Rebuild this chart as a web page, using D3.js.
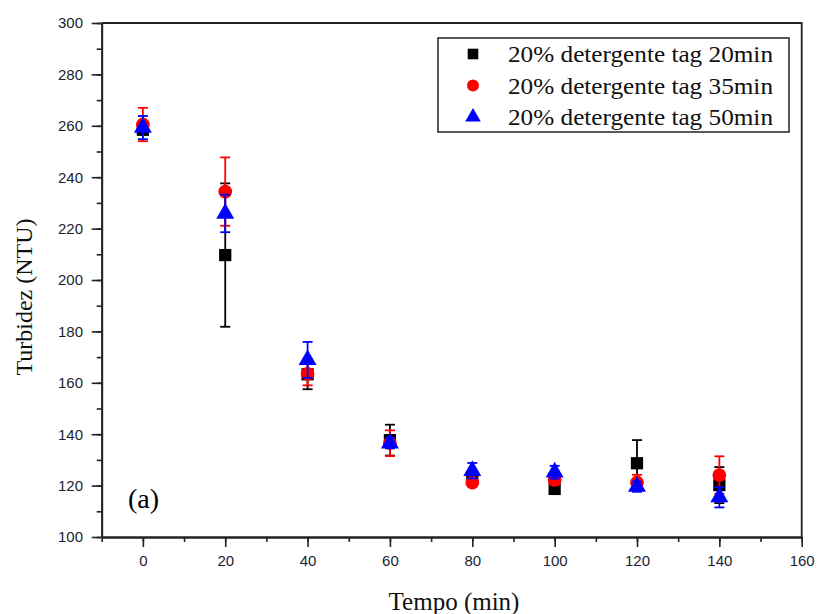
<!DOCTYPE html>
<html>
<head>
<meta charset="utf-8">
<script src="https://cdn.jsdelivr.net/npm/d3@7"></script>
<style>
  html, body { margin: 0; padding: 0; background: #fff; }
  #chart { width: 817px; height: 614px; }
  .serif { font-family: "Times New Roman", Times, "Liberation Serif", Tinos, serif; }
  .sans  { font-family: Arial, Helvetica, "Liberation Sans", Arimo, sans-serif; }
</style>
</head>
<body>
<div id="chart"></div>
<script>
// turbidity vs time, three detergent series with error bars

const tempo   = [0, 20, 40, 60, 80, 100, 120, 140];
const turb20  = [258.5, 209.7, 163.3, 137.7, 122.8, 118.7, 128.7, 120.2];
const err20   = [2, 27.9, 5.8, 6, 2.5, 1, 9, 7];
const turb35  = [260.5, 234.4, 163.5, 136.5, 121.2, 122.2, 121.2, 124.1];
const err35   = [6.5, 13.3, 4.5, 5, 1.5, 2, 3, 7.3];
const turb50  = [259.3, 225.9, 168.9, 136.5, 125.8, 125.2, 119.6, 115.5];
const err50   = [4.5, 7.3, 7, 2, 3, 2.5, 2, 4];
const seriesNames = ["20% detergente tag 20min", "20% detergente tag 35min", "20% detergente tag 50min"];
const xTicks = [0, 20, 40, 60, 80, 100, 120, 140, 160];
const yTicks = [100, 120, 140, 160, 180, 200, 220, 240, 260, 280, 300];

const margin = { top: 23, left: 101.7 };
const width  = 700;
const height = 514;

const svg = d3.select("#chart").append("svg")
  .attr("width", 817)
  .attr("height", 614);

const g = svg.append("g")
  .attr("transform", `translate(${margin.left},${margin.top})`);

const x = d3.scaleLinear().domain([-10, 160]).range([0, width]);
const y = d3.scaleLinear().domain([100, 300]).range([height, 0]);

// --- minor ticks ---
g.append("g")
  .attr("transform", `translate(0,${height})`)
  .call(d3.axisBottom(x).tickValues(d3.range(-10, 161, 10)).tickSize(5).tickSizeOuter(0).tickFormat(""));
g.append("g")
  .call(d3.axisLeft(y).tickValues(d3.range(100, 301, 10)).tickSize(5).tickSizeOuter(0).tickFormat(""));

// --- major ticks with labels ---
g.append("g")
  .attr("transform", `translate(0,${height})`)
  .call(d3.axisBottom(x).tickValues(xTicks).tickSize(10).tickSizeOuter(0).tickPadding(8.4));
g.append("g")
  .call(d3.axisLeft(y).tickValues(yTicks).tickSize(10).tickSizeOuter(0).tickPadding(8.7));

g.selectAll(".tick line").attr("stroke", "#222").attr("stroke-width", 1.6);
g.selectAll(".domain").attr("stroke", "#222").attr("stroke-width", 1.8);
g.selectAll(".tick text")
  .attr("class", "sans")
  .attr("font-family", null)
  .style("font-size", "15px")
  .attr("fill", "#1d1d2e");

// --- frame (top + right) ---
g.append("path")
  .attr("d", `M0,0H${width}V${height}`)
  .attr("fill", "none")
  .attr("stroke", "#222")
  .attr("stroke-width", 1.8);

// --- axis labels ---
svg.append("text")
  .attr("class", "serif")
  .attr("x", 454)
  .attr("y", 610)
  .attr("text-anchor", "middle")
  .style("font-size", "25px")
  .attr("fill", "#111")
  .text("Tempo (min)");

svg.append("text")
  .attr("class", "serif")
  .attr("transform", "translate(32,297) rotate(-90)")
  .attr("text-anchor", "middle")
  .style("font-size", "24px")
  .attr("fill", "#111")
  .text("Turbidez (NTU)");

svg.append("text")
  .attr("class", "serif")
  .attr("x", 128)
  .attr("y", 508)
  .style("font-size", "28px")
  .attr("fill", "#000")
  .text("(a)");

// --- series ---
const series = [
  { vals: turb20, errs: err20, color: "#000000", shape: d3.symbolSquare, size: 150 },
  { vals: turb35, errs: err35, color: "#ff0000", shape: d3.symbolCircle, size: 150 },
  { vals: turb50, errs: err50, color: "#0000ff", shape: d3.symbolTriangle, size: 140 }
];

series.forEach(s => {
  const data = tempo.map((t, i) => ({ t, v: s.vals[i], e: s.errs[i] }));
  const sg = g.append("g");

  const eb = sg.selectAll(".err")
    .data(data)
    .enter()
    .append("g")
    .attr("stroke", s.color)
    .attr("stroke-width", 1.8);
  eb.append("line")
    .attr("x1", d => x(d.t)).attr("x2", d => x(d.t))
    .attr("y1", d => y(d.v + d.e)).attr("y2", d => y(d.v - d.e));
  eb.append("line")
    .attr("x1", d => x(d.t) - 5).attr("x2", d => x(d.t) + 5)
    .attr("y1", d => y(d.v + d.e)).attr("y2", d => y(d.v + d.e));
  eb.append("line")
    .attr("x1", d => x(d.t) - 5).attr("x2", d => x(d.t) + 5)
    .attr("y1", d => y(d.v - d.e)).attr("y2", d => y(d.v - d.e));

  sg.selectAll(".pt")
    .data(data)
    .enter()
    .append("path")
    .attr("d", d3.symbol().type(s.shape).size(s.size))
    .attr("transform", d => `translate(${x(d.t)},${y(d.v)})`)
    .attr("fill", s.color);
});

// --- legend ---
const legend = svg.append("g");
legend.append("rect")
  .attr("x", 438).attr("y", 38)
  .attr("width", 351).attr("height", 94)
  .attr("fill", "#fff")
  .attr("stroke", "#222")
  .attr("stroke-width", 1.5);

series.forEach((s, i) => {
  const ly = 54 + i * 31.5;
  legend.append("path")
    .attr("d", d3.symbol().type(s.shape).size(s.size * 0.75))
    .attr("transform", `translate(473,${ly})`)
    .attr("fill", s.color);
  legend.append("text")
    .attr("class", "serif")
    .attr("x", 508)
    .attr("y", ly + 8)
    .attr("textLength", 265)
    .attr("lengthAdjust", "spacingAndGlyphs")
    .style("font-size", "23px")
    .attr("fill", "#111")
    .text(seriesNames[i]);
});
</script>
</body>
</html>
